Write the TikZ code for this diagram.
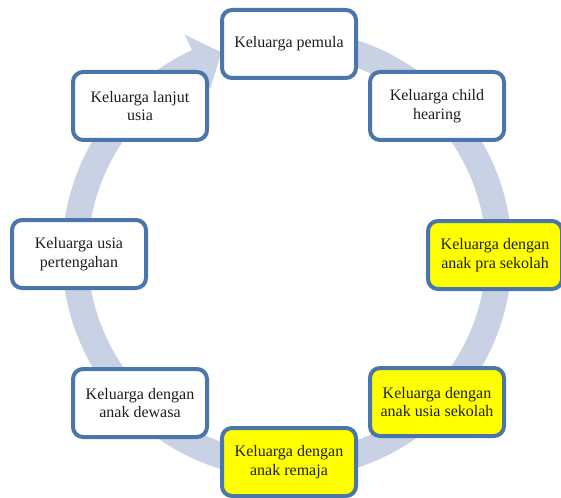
\documentclass[tikz,border=0pt]{standalone}
\usepackage{fontspec}
\setmainfont{Liberation Serif}
\definecolor{band}{RGB}{200,210,228}
\definecolor{edge}{RGB}{74,118,172}
\definecolor{yel}{RGB}{255,255,0}
\definecolor{txt}{RGB}{30,30,30}
\begin{document}
\begin{tikzpicture}[x=1pt,y=-1pt,
  stage/.style={draw=edge, line width=4pt, rounded corners=10pt, fill=white,
    minimum width=134pt, minimum height=68pt, align=center, text=txt,
    font=\fontsize{16}{18.5}\selectfont, inner sep=2pt},
  hl/.style={stage, fill=yel}]
\useasboundingbox (0,0) rectangle (561,497);
\begin{scope}[shift={(287pt,-254pt)}]
  \fill[band] (80:225pt) arc[start angle=80, end angle=-245, radius=225pt]
    -- (-245:242pt) -- (-252:212pt) -- (-245:182pt) -- (-245:199pt)
    arc[start angle=-245, end angle=80, radius=199pt] -- cycle;
\end{scope}
\node[stage] (n1) at (289,44) {Keluarga pemula};
\node[stage] (n2) at (437,106) {Keluarga child\\hearing};
\node[hl] (n3) at (495,255) {Keluarga dengan\\anak pra sekolah};
\node[hl] (n4) at (437,402) {Keluarga dengan\\anak usia sekolah};
\node[hl] (n5) at (289,462) {Keluarga dengan\\anak remaja};
\node[stage] (n6) at (140,403) {Keluarga dengan\\anak dewasa};
\node[stage] (n7) at (79,254) {Keluarga usia\\pertengahan};
\node[stage] (n8) at (140,106) {Keluarga lanjut\\usia};
\end{tikzpicture}
\end{document}
